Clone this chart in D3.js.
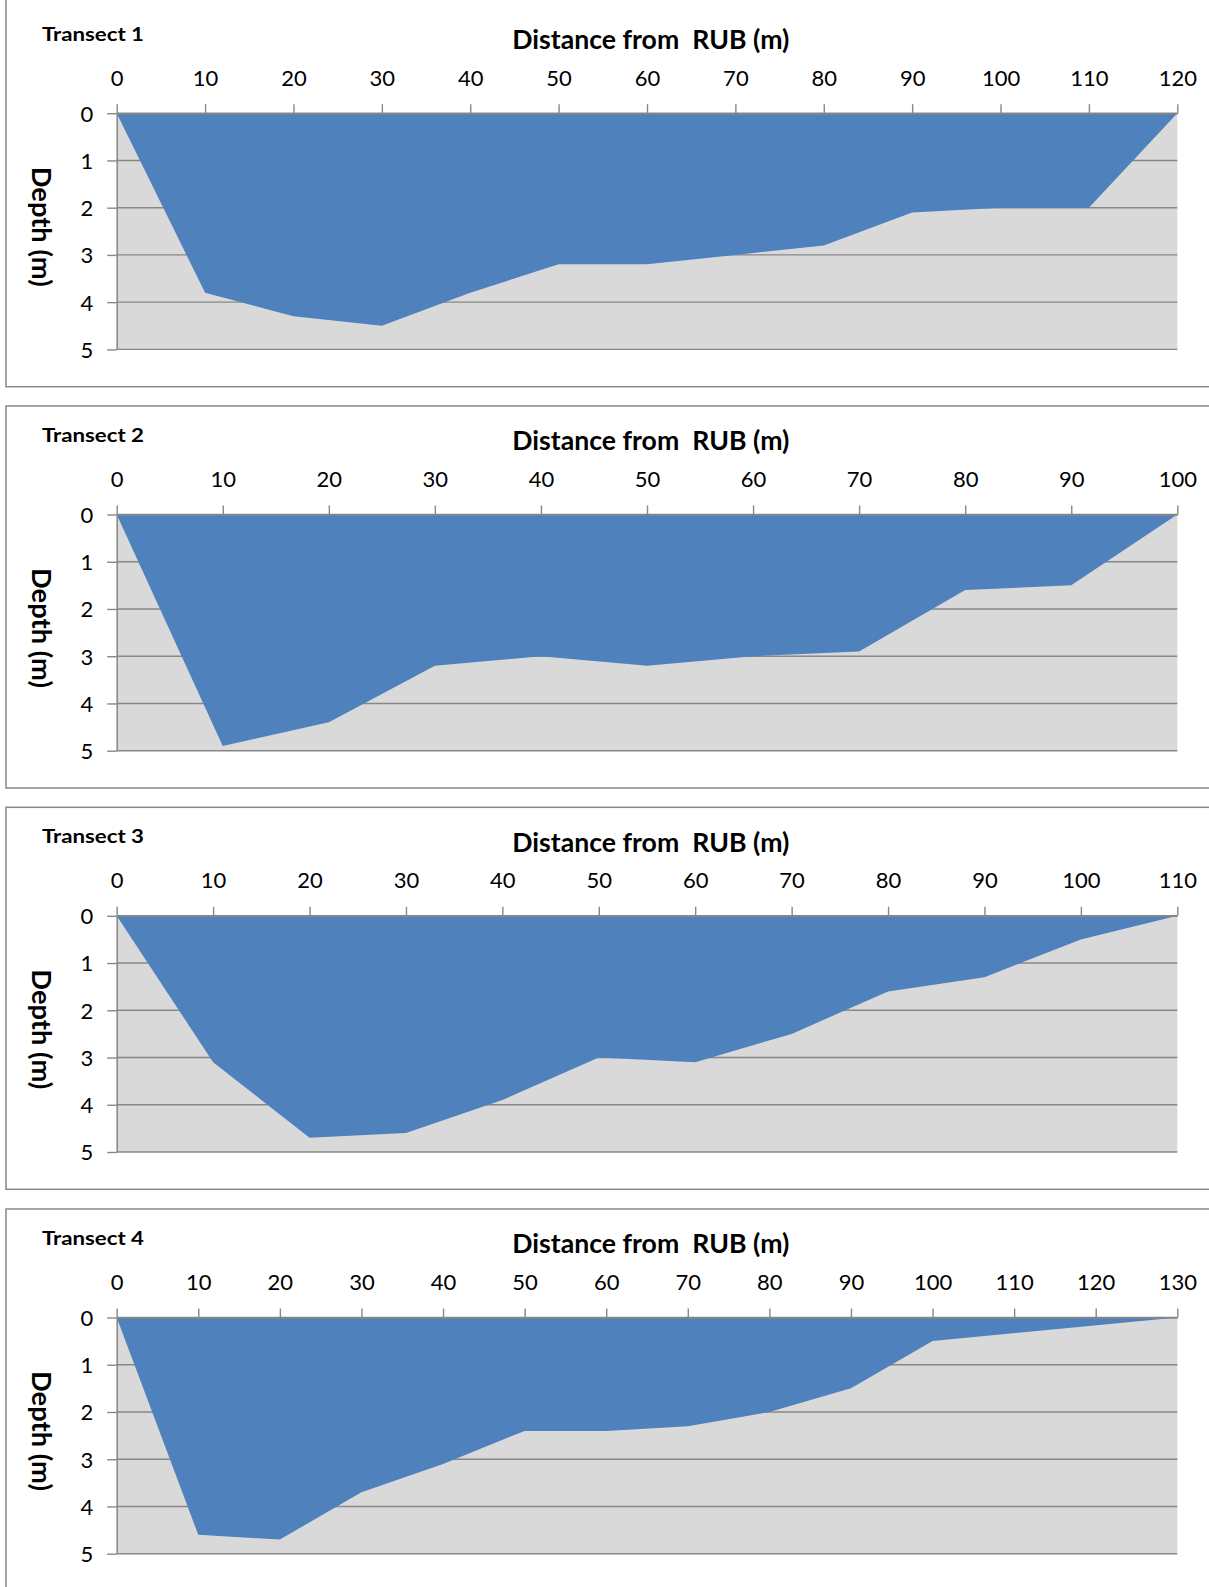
<!DOCTYPE html>
<html>
<head>
<meta charset="utf-8">
<script src="https://cdn.jsdelivr.net/npm/d3@7"></script>
<style>
  html, body { margin: 0; padding: 0; background: #ffffff; }
  svg { display: block; }
</style>
</head>
<body>
<div id="chart"></div>
<script>
// ---- data ----
const transectNames = ["Transect 1", "Transect 2", "Transect 3", "Transect 4"];
const xAxisTitle = "Distance from  RUB (m)";
const yAxisTitle = "Depth (m)";

const t1Distance = [0, 10, 20, 30, 40, 50, 60, 70, 80, 90, 100, 110, 120];
const t1Depth    = [0, 3.8, 4.3, 4.5, 3.8, 3.2, 3.2, 3.0, 2.8, 2.1, 2.0, 2.0, 0];

const t2Distance = [0, 10, 20, 30, 40, 50, 60, 70, 80, 90, 100];
const t2Depth    = [0, 4.9, 4.4, 3.2, 3.0, 3.2, 3.0, 2.9, 1.6, 1.5, 0];

const t3Distance = [0, 10, 20, 30, 40, 50, 60, 70, 80, 90, 100, 110];
const t3Depth    = [0, 3.1, 4.7, 4.6, 3.9, 3.0, 3.1, 2.5, 1.6, 1.3, 0.5, 0];

const t4Distance = [0, 10, 20, 30, 40, 50, 60, 70, 80, 90, 100, 130];
const t4Depth    = [0, 4.6, 4.7, 3.7, 3.1, 2.4, 2.4, 2.3, 2.0, 1.5, 0.5, 0];

const xAxisMax = [120, 100, 110, 130];
const depthTicks = [0, 1, 2, 3, 4, 5];

const distances = [t1Distance, t2Distance, t3Distance, t4Distance];
const depths = [t1Depth, t2Depth, t3Depth, t4Depth];

// ---- layout ----
const W = 1209, H = 1587;
const panelTops = [4.7, 406, 807.3, 1209];
const plotLeft = 116.7, plotRight = 1177.3;
const plotTopOffset = 108.5, plotHeight = 236.2;
const FONT = "Lato, 'Open Sans', 'Liberation Sans', sans-serif";
const LINE = "#878787";
const BLUE = "#4f81bd";
const BG = "#d9d9d9";

const svg = d3.select("#chart").append("svg")
  .attr("width", W).attr("height", H)
  .attr("font-family", FONT);

transectNames.forEach((name, i) => {
  const top = panelTops[i];
  // panel border (first panel's top edge lies outside the picture)
  const rectTop = i === 0 ? -6 : top;
  svg.append("rect")
    .attr("x", 6).attr("y", rectTop)
    .attr("width", W + 20).attr("height", top + 382 - rectTop)
    .attr("fill", "#ffffff")
    .attr("stroke", LINE).attr("stroke-width", 1.5);

  const g = svg.append("g")
    .attr("transform", `translate(${plotLeft},${top + plotTopOffset})`);
  const w = plotRight - plotLeft, h = plotHeight;

  const x = d3.scaleLinear().domain([0, xAxisMax[i]]).range([0, w]);
  const y = d3.scaleLinear().domain([0, 5]).range([0, h]);

  // plot background
  g.append("rect").attr("width", w).attr("height", h).attr("fill", BG);

  // horizontal gridlines
  g.append("g").selectAll("line").data(depthTicks).join("line")
    .attr("x1", 0).attr("x2", w)
    .attr("y1", d => y(d)).attr("y2", d => y(d))
    .attr("stroke", LINE).attr("stroke-width", 1.4);

  // area (water)
  const data = distances[i].map((d, k) => ({ dist: d, depth: depths[i][k] }));
  const area = d3.area()
    .x(d => x(d.dist))
    .y0(y(0))
    .y1(d => y(d.depth));
  g.append("path").datum(data)
    .attr("d", area)
    .attr("fill", BLUE);

  // x axis (top)
  const xAxis = g.append("g")
    .call(d3.axisTop(x).tickValues(d3.range(0, xAxisMax[i] + 1, 10))
      .tickSize(9).tickSizeOuter(0).tickPadding(18.5));
  xAxis.select(".domain").attr("stroke", LINE).attr("stroke-width", 1.5);
  xAxis.selectAll(".tick line").attr("stroke", LINE).attr("stroke-width", 1.4);
  xAxis.selectAll(".tick text")
    .attr("font-size", 22).attr("font-family", FONT).attr("fill", "#000");

  // y axis (left)
  const yAxis = g.append("g")
    .call(d3.axisLeft(y).tickValues(depthTicks).tickFormat(d3.format("d"))
      .tickSize(9.5).tickSizeOuter(0).tickPadding(14));
  yAxis.select(".domain").attr("stroke", LINE).attr("stroke-width", 1.5);
  yAxis.selectAll(".tick line").attr("stroke", LINE).attr("stroke-width", 1.4);
  yAxis.selectAll(".tick text")
    .attr("font-size", 22).attr("font-family", FONT).attr("fill", "#000")
    .attr("dy", "0.36em");

  // panel title
  svg.append("text")
    .attr("x", 42).attr("y", top + plotTopOffset - 72.4)
    .attr("font-size", 19).attr("font-weight", "bold")
    .attr("textLength", 102).attr("lengthAdjust", "spacingAndGlyphs")
    .attr("fill", "#000")
    .text(name);

  // x axis title
  svg.append("text")
    .attr("x", 512.3).attr("y", top + plotTopOffset - 64.3)
    .attr("font-size", 26).attr("font-weight", "bold")
    .attr("textLength", 277).attr("lengthAdjust", "spacingAndGlyphs")
    .attr("xml:space", "preserve")
    .attr("fill", "#000")
    .text(xAxisTitle);

  // y axis title (rotated, reading top to bottom)
  svg.append("text")
    .attr("transform", `translate(32,${top + plotTopOffset + 113.5}) rotate(90)`)
    .attr("text-anchor", "middle")
    .attr("font-size", 26).attr("font-weight", "bold")
    .attr("textLength", 120).attr("lengthAdjust", "spacingAndGlyphs")
    .attr("fill", "#000")
    .text(yAxisTitle);
});
</script>
</body>
</html>
